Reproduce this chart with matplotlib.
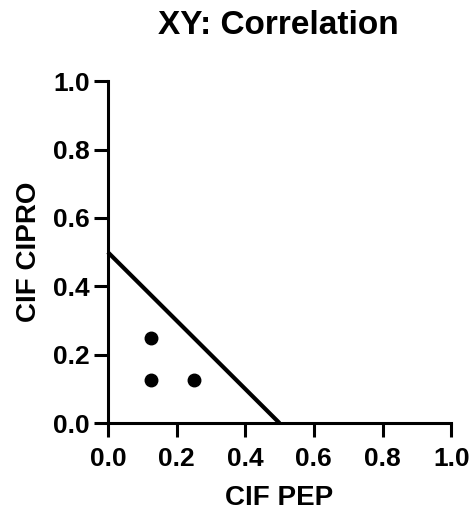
import matplotlib
matplotlib.use("Agg")
import matplotlib.pyplot as plt

# data
cif_pep = [0.125, 0.125, 0.25]
cif_cipro = [0.25, 0.125, 0.125]
line_x = [0.0, 0.5]
line_y = [0.5, 0.0]
ticks = [0.0, 0.2, 0.4, 0.6, 0.8, 1.0]

plt.rcParams['font.family'] = ['Liberation Sans', 'DejaVu Sans']
plt.rcParams['font.weight'] = 'bold'

fig = plt.figure(figsize=(4.71, 5.11), dpi=100)
ax = fig.add_axes([0.229, 0.172, 0.729, 0.669])

ax.plot(line_x, line_y, color='black', linewidth=3.0, solid_capstyle='butt', clip_on=False)
ax.plot(cif_pep, cif_cipro, 'o', color='black', markersize=9, clip_on=False)

ax.set_xlim(0, 1)
ax.set_ylim(0, 1)
ax.set_xticks(ticks)
ax.set_yticks(ticks)
ax.set_xticklabels([f"{t:.1f}" for t in ticks])
ax.set_yticklabels([f"{t:.1f}" for t in ticks])

for side in ['top', 'right']:
    ax.spines[side].set_visible(False)
for side in ['left', 'bottom']:
    ax.spines[side].set_linewidth(2.2)
ax.tick_params(axis='both', length=10, width=2.2, labelsize=19)
ax.tick_params(axis='x', pad=7)
ax.tick_params(axis='y', pad=3)
for lbl in ax.get_xticklabels() + ax.get_yticklabels():
    lbl.set_fontweight('bold')

ax.set_xlabel("CIF PEP", fontsize=20, fontweight='bold', labelpad=10)
ax.set_ylabel("CIF CIPRO", fontsize=20, fontweight='bold', labelpad=8)
fig.suptitle("XY: Correlation", fontsize=24, fontweight='bold', x=0.59, y=0.98)

fig.savefig("out.png", dpi=100)
